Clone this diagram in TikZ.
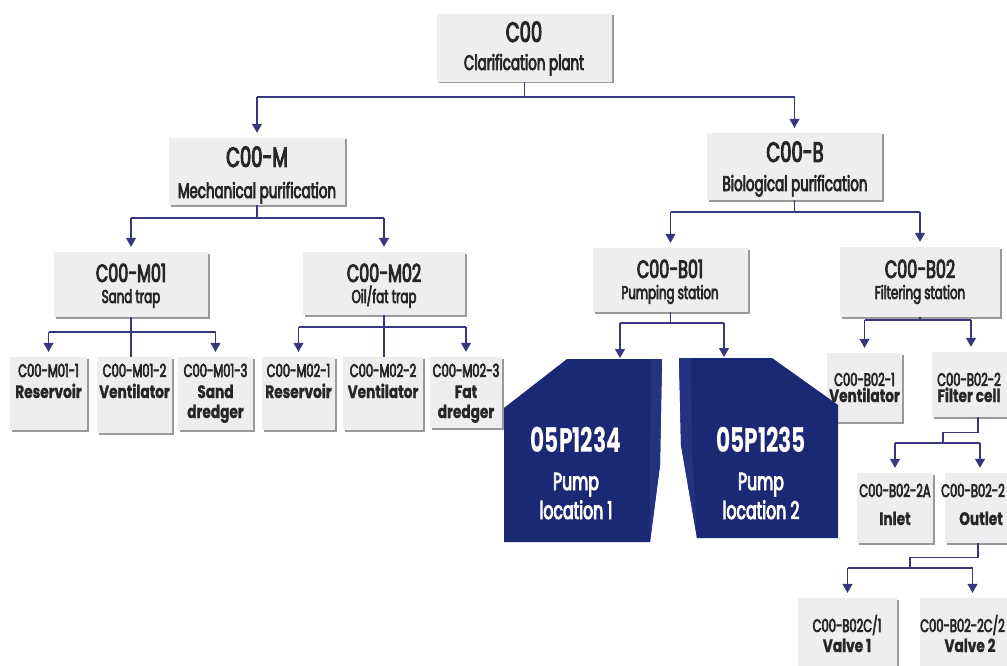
\documentclass[tikz,border=0pt]{standalone}
\usepackage{fontspec}
\setmainfont{Poppins}[FakeStretch=0.64]
\newfontfamily\mdf{Poppins}[FakeStretch=0.64, FakeBold=3.5]
\newfontfamily\bdf{Poppins}[FakeStretch=0.76, BoldFeatures={FakeBold=1}]
\usetikzlibrary{arrows.meta,shadows}
\definecolor{navy}{RGB}{27,40,115}
\definecolor{navyl}{RGB}{36,50,130}
\definecolor{conn}{RGB}{55,55,125}
\definecolor{boxfill}{RGB}{238,237,240}
\definecolor{ink}{RGB}{40,38,36}
\tikzset{
  bx/.style={rectangle, fill=boxfill, inner sep=0pt,
    drop shadow={shadow xshift=1.5pt, shadow yshift=-1.5pt, fill=black!40, opacity=1}},
  lnk/.style={draw=conn, line width=1.1pt},
  arr/.style={lnk, -{Triangle[width=10pt,length=9pt]}, shorten >=5pt},
  tx/.style={anchor=base, inner sep=0pt, text=ink},
  fT/.style={tx, font=\mdf\fontsize{28}{30}\selectfont},
  fS/.style={tx, font=\mdf\fontsize{21}{22}\selectfont},
  fTb/.style={tx, font=\mdf\fontsize{25}{26}\selectfont},
  fSb/.style={tx, font=\mdf\fontsize{18.5}{20}\selectfont},
  fL/.style={tx, font=\mdf\fontsize{18}{19}\selectfont},
  fLB/.style={tx, font=\bdf\bfseries\fontsize{18}{19}\selectfont},
  fP/.style={anchor=base, inner sep=0pt, text=white, font=\bfseries\fontsize{34}{35}\selectfont},
  fPs/.style={anchor=base, inner sep=0pt, text=white, font=\mdf\fontsize{24.5}{26}\selectfont},
}
\newcommand\bxat[5]{\node[bx, minimum width=#4pt, minimum height=#5pt] (#1) at (#2,#3) {};}
\newcommand\txt[5]{\node[#1] (#2) at (#3,#4) {#5};}
\begin{document}
\begin{tikzpicture}[x=1pt,y=-1pt]
\useasboundingbox (0,0) rectangle (1007,666);
\clip (0,0) rectangle (1007,666);
\fill[white] (0,0) rectangle (1007,666);

% boxes
\bxat{c00}{524.5}{48}{175}{68}
\bxat{cm}{257}{171.5}{176}{67}
\bxat{cb}{794.5}{166.5}{175}{67}
\bxat{m01}{131}{284.5}{154}{65}
\bxat{m02}{384}{283.5}{162}{63}
\bxat{b01}{670.5}{280}{155}{64}
\bxat{b02}{920}{282}{160}{70}
\bxat{m11}{48.5}{393.5}{77}{73}
\bxat{m12}{134.5}{395}{75}{76}
\bxat{m13}{215.5}{393.5}{75}{73}
\bxat{m21}{298.5}{393.5}{73}{73}
\bxat{m22}{383}{393.5}{80}{73}
\bxat{m23}{466}{392.5}{72}{71}
\bxat{b21}{864.5}{387.5}{75}{69}
\bxat{b22}{971}{384.5}{78}{65}
\bxat{b2a}{895}{508}{76}{70}
\bxat{b2b}{980}{508}{70}{70}
\bxat{v1}{847.5}{639}{99}{82}
\bxat{v2}{972.5}{639}{105}{82}

% pumps
\fill[navy] (567,359) -- (662,359) -- (660,465) -- (650,542) -- (504,542) -- (504,408) -- cycle;
\fill[navyl] (651,359) -- (662,359) -- (660,465) -- (650,542) -- (650,460) -- cycle;
\fill[navy] (679,358) -- (772,358) -- (838,405) -- (838,538) -- (697,538) -- (681,445) -- cycle;
\fill[navyl] (679,358) -- (691,358) -- (692,450) -- (697,538) -- (681,445) -- cycle;
\coordinate (p1) at (620,359);
\coordinate (p2) at (724,358);

% texts
\txt{fT}{t00a}{524}{42}{C00}
\txt{fS}{t00b}{524}{70}{Clarification plant}
\txt{fT}{tma}{257}{167}{C00-M}
\txt{fS}{tmb}{257}{198}{Mechanical purification}
\txt{fT}{tba}{795}{162}{C00-B}
\txt{fS}{tbb}{795}{191}{Biological purification}
\txt{fTb}{t1a}{131}{282}{C00-M01}
\txt{fSb}{t1b}{131}{303}{Sand trap}
\txt{fTb}{t2a}{384}{282}{C00-M02}
\txt{fSb}{t2b}{384}{303}{Oil/fat trap}
\txt{fTb}{t3a}{670}{278}{C00-B01}
\txt{fSb}{t3b}{670}{299}{Pumping station}
\txt{fTb}{t4a}{920}{278}{C00-B02}
\txt{fSb}{t4b}{920}{299}{Filtering station}

\txt{fL}{l11a}{48.5}{377}{C00-M01-1}
\txt{fLB}{l11b}{48.5}{398}{Reservoir}
\txt{fL}{l12a}{134.5}{377}{C00-M01-2}
\txt{fLB}{l12b}{134.5}{398}{Ventilator}
\txt{fL}{l13a}{215.5}{377}{C00-M01-3}
\txt{fLB}{l13b}{215.5}{398}{Sand}
\txt{fLB}{l13c}{215.5}{418}{dredger}
\txt{fL}{l21a}{298.5}{377}{C00-M02-1}
\txt{fLB}{l21b}{298.5}{398}{Reservoir}
\txt{fL}{l22a}{383}{377}{C00-M02-2}
\txt{fLB}{l22b}{383}{398}{Ventilator}
\txt{fL}{l23a}{466}{377}{C00-M02-3}
\txt{fLB}{l23b}{466}{398}{Fat}
\txt{fLB}{l23c}{466}{418}{dredger}
\txt{fL}{lb1a}{864.5}{386}{C00-B02-1}
\txt{fLB}{lb1b}{864.5}{402}{Ventilator}
\txt{fL}{lb2a}{969}{386}{C00-B02-2}
\txt{fLB}{lb2b}{969}{402}{Filter cell}
\txt{fL}{lbaa}{895}{497}{C00-B02-2A}
\txt{fLB}{lbab}{895}{525}{Inlet}
\node[fL, anchor=base east] (lbba) at (1005,497) {C00-B02-2};
\txt{fLB}{lbbb}{981}{525}{Outlet}
\txt{fL}{lv1a}{847}{632}{C00-B02C/1}
\txt{fLB}{lv1b}{847}{652}{Valve 1}
\node[fL, anchor=base east] (lv2a) at (1005,632) {C00-B02-2C/2};
\txt{fLB}{lv2b}{970}{652}{Valve 2}

\txt{fP}{pa1}{576}{452}{05P1234}
\txt{fPs}{pb1}{576}{490}{Pump}
\txt{fPs}{pc1}{576}{519}{location 1}
\txt{fP}{pa2}{761}{452}{05P1235}
\txt{fPs}{pb2}{761}{490}{Pump}
\txt{fPs}{pc2}{761}{519}{location 2}

% connectors
\draw[lnk] (c00.south) -- (c00.south |- 0,97);
\draw[lnk] (cm.north |- 0,97) -- (cb.north |- 0,97);
\draw[arr] (cm.north |- 0,97) -- (cm.north);
\draw[arr] (cb.north |- 0,97) -- (cb.north);

\draw[lnk] (cm.south) -- (cm.south |- 0,218);
\draw[lnk] (m01.north |- 0,218) -- (m02.north |- 0,218);
\draw[arr] (m01.north |- 0,218) -- (m01.north);
\draw[arr] (m02.north |- 0,218) -- (m02.north);

\draw[lnk] (m01.south) -- (m01.south |- m12.north);
\draw[lnk] (m11.north |- 0,332) -- (m13.north |- 0,332);
\draw[arr] (m11.north |- 0,332) -- (m11.north);
\draw[arr] (m13.north |- 0,332) -- (m13.north);

\draw[lnk] (m02.south) -- (m02.south |- m22.north);
\draw[lnk] (m21.north |- 0,327) -- (m23.north |- 0,327);
\draw[arr] (m21.north |- 0,327) -- (m21.north);
\draw[arr] (m23.north |- 0,327) -- (m23.north);

\draw[lnk] (cb.south) -- (cb.south |- 0,212);
\draw[lnk] (b01.north |- 0,212) -- (b02.north |- 0,212);
\draw[arr] (b01.north |- 0,212) -- (b01.north);
\draw[arr] (b02.north |- 0,212) -- (b02.north);

\draw[lnk] (b01.south) -- (b01.south |- 0,323);
\draw[lnk] (p1 |- 0,323) -- (p2 |- 0,323);
\draw[arr, shorten >=1pt] (p1 |- 0,323) -- (p1);
\draw[arr, shorten >=1pt] (p2 |- 0,323) -- (p2);

\draw[lnk] (b02.south) -- (b02.south |- 0,320);
\draw[lnk] (b21.north |- 0,320) -- (b22.north |- 0,320);
\draw[arr] (b21.north |- 0,320) -- (b21.north);
\draw[arr] (b22.north |- 0,320) -- (b22.north);

\draw[lnk] ([xshift=7pt]b22.south) -- ++(0,15) -| (943,443);
\draw[lnk] (b2a.north |- 0,443) -- (b2b.north |- 0,443);
\draw[arr] (b2a.north |- 0,443) -- (b2a.north);
\draw[arr] (b2b.north |- 0,443) -- (b2b.north);

\draw[lnk] ([xshift=-2pt]b2b.south) -- ++(0,14) -| (910,568);
\draw[lnk] (v1.north |- 0,568) -- (v2.north |- 0,568);
\draw[arr] (v1.north |- 0,568) -- (v1.north);
\draw[arr] (v2.north |- 0,568) -- (v2.north);
\end{tikzpicture}
\end{document}
